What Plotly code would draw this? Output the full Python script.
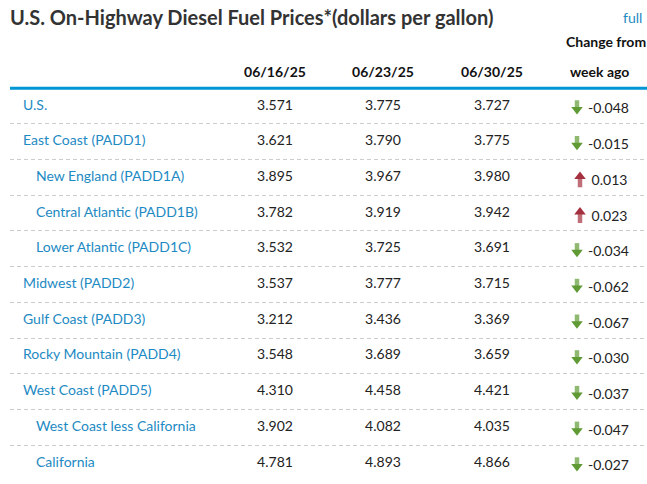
import plotly.graph_objects as go

regions = ["U.S.", "East Coast (PADD1)", "New England (PADD1A)", "Central Atlantic (PADD1B)",
           "Lower Atlantic (PADD1C)", "Midwest (PADD2)", "Gulf Coast (PADD3)",
           "Rocky Mountain (PADD4)", "West Coast (PADD5)", "West Coast less California",
           "California"]
is_subregion = [False, False, True, True, True, False, False, False, False, True, True]
dates = ["06/16/25", "06/23/25", "06/30/25"]
price_0616 = [3.571, 3.621, 3.895, 3.782, 3.532, 3.537, 3.212, 3.548, 4.310, 3.902, 4.781]
price_0623 = [3.775, 3.790, 3.967, 3.919, 3.725, 3.777, 3.436, 3.689, 4.458, 4.082, 4.893]
price_0630 = [3.727, 3.775, 3.980, 3.942, 3.691, 3.715, 3.369, 3.659, 4.421, 4.035, 4.866]
week_change = [-0.048, -0.015, 0.013, 0.023, -0.034, -0.062, -0.067, -0.030, -0.037, -0.047, -0.027]

FONT = "Lato"
BLUE = "#1d8ac3"
GREEN = "#5f9a35"
RED = "#a5303f"

# page body margin is removed below, so figure pixels == page pixels
W, H = 647, 484
ROW_H = 35.7
ROW0 = 106          # centre of first row
LEFT = 10           # left edge of the table

rows = list(range(len(regions)))
col_x = [275, 383, 492]
label_x = [36 if s else 23 for s in is_subregion]

fig = go.Figure()

# row labels
fig.add_trace(go.Scatter(x=label_x, y=rows, text=regions, mode="text",
                         textposition="middle right",
                         textfont=dict(family=FONT, size=14, color=BLUE)))

# price columns
for cx, vals in zip(col_x, [price_0616, price_0623, price_0630]):
    fig.add_trace(go.Scatter(x=[cx] * len(rows), y=rows, mode="text",
                             text=[f"{v:.3f}" for v in vals],
                             textposition="middle center",
                             textfont=dict(family=FONT, size=14, color="#222")))

# change arrows: stem (thick vertical line) + triangle head
up = [c > 0 for c in week_change]
px = 1 / ROW_H
arrow_x = [580 if u else 577 for u in up]
arrow_col = [RED if u else GREEN for u in up]
fig.add_trace(go.Scatter(x=arrow_x, y=[r + (5 if u else -1.5) * px for r, u in zip(rows, up)],
                         mode="markers",
                         marker=dict(symbol="line-ns-open", size=[7 if u else 6 for u in up],
                                     color=arrow_col,
                                     line=dict(width=4.5, color=arrow_col))))
fig.add_trace(go.Scatter(x=arrow_x, y=[r + (-1 if u else 3.5) * px for r, u in zip(rows, up)],
                         mode="markers",
                         marker=dict(symbol=["triangle-up" if u else "triangle-down" for u in up],
                                     size=10, color=arrow_col, line=dict(width=0))))
fig.add_trace(go.Scatter(x=[588] * len(rows), y=[r + 0.11 for r in rows], mode="text",
                         text=[f"{c:.3f}" if c < 0 else f" {c:.3f}" for c in week_change],
                         textposition="middle right",
                         textfont=dict(family=FONT, size=14, color="#222")))

# header
fig.add_trace(go.Scatter(x=col_x, y=[-0.9] * 3, text=dates, mode="text",
                         textposition="middle center",
                         textfont=dict(family=FONT, size=14, color="#111", weight="bold")))
fig.add_trace(go.Scatter(x=[566, 570], y=[-1.74, -0.9], text=["Change from", "week ago"],
                         mode="text", textposition="middle right",
                         textfont=dict(family=FONT, size=14, color="#111", weight="bold")))

fig.add_shape(type="line", xref="paper", x0=0, x1=1, y0=-0.5, y1=-0.5,
              line=dict(color="#0096d6", width=3))

fig.add_annotation(text="full", xref="paper", yref="paper",
                   x=(621 - LEFT) / (W - LEFT), y=1 - 17 / H,
                   xanchor="left", yanchor="middle", showarrow=False,
                   font=dict(family=FONT, size=14, color=BLUE))

fig.update_traces(cliponaxis=False, hoverinfo="skip", showlegend=False)
fig.update_layout(
    width=W, height=H,
    margin=dict(l=LEFT, r=0, t=0, b=0),
    paper_bgcolor="white", plot_bgcolor="white",
    title=dict(text="U.S. On-Highway Diesel Fuel Prices*(dollars per gallon)",
               x=LEFT / W, xref="container", xanchor="left",
               y=1 - 18 / H, yref="container", yanchor="middle",
               font=dict(family=FONT, size=20, color="#333", weight="bold")),
)
fig.update_xaxes(range=[LEFT, W], visible=False, fixedrange=True)
fig.update_yaxes(range=[(H - ROW0) / ROW_H, -ROW0 / ROW_H], fixedrange=True,
                 tickvals=[r + 0.5 for r in rows[:-1]], showticklabels=False,
                 showgrid=True, gridcolor="#cccccc", griddash="4px,3px", gridwidth=1,
                 zeroline=False, ticks="")
fig.write_html("out.html", config={"displayModeBar": False},
               post_script="document.body.style.margin='0';")
